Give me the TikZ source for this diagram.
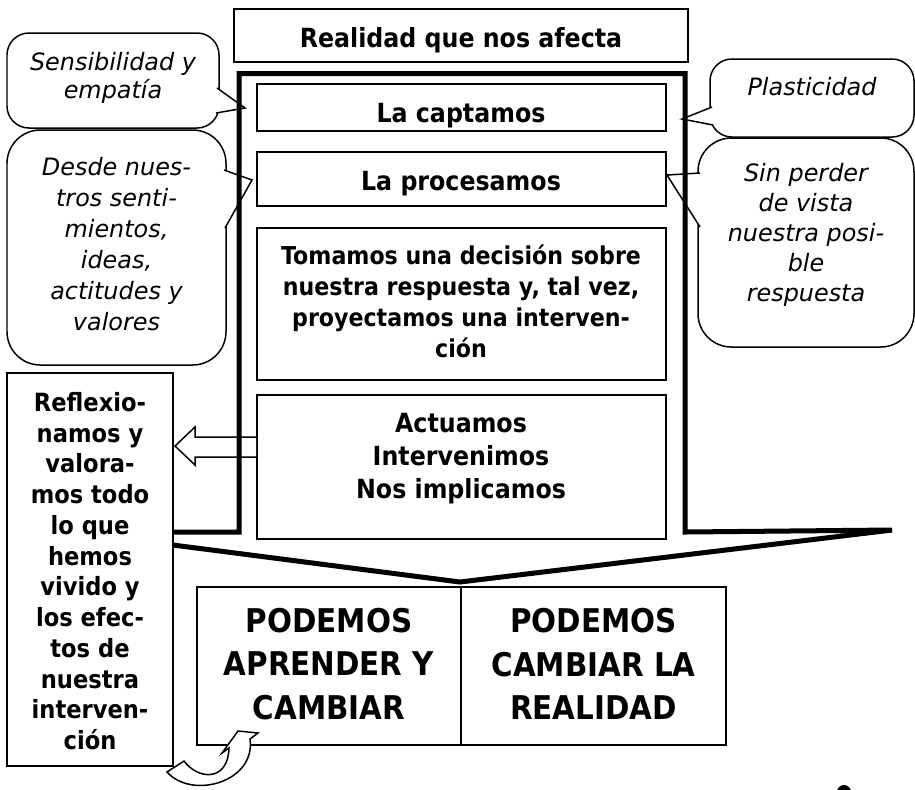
\documentclass[tikz,border=0pt]{standalone}
\usepackage{fontspec}
\setmainfont{DejaVu Sans}[FakeStretch=0.9]
\newfontfamily\itfam{DejaVu Sans Oblique}
\usetikzlibrary{calc,fit}
\def\bubble(#1)(#2)(#3)(#4)(#5)#6{\draw[bubbleline, fill=white, rounded corners=#6] (#1) rectangle (#2);
	\fill[white] (#3) -- (#5) -- (#4) -- cycle;
	\draw[bubbleline] (#3) -- (#5) -- (#4);}

\begin{document}
\begin{tikzpicture}[x=0.02cm, y=-0.02cm,
		outline/.style={draw, line width=1.1pt, fill=white, inner sep=0pt},
		bubbleline/.style={line width=0.85pt},
		thickframe/.style={line width=2.85pt},
		bt/.style={font=\bfseries\fontsize{15}{17.6}\selectfont, align=center, inner sep=0pt},
		itx/.style={font=\itfam\fontsize{13.6}{16}\selectfont, align=center, inner sep=0pt},
		big/.style={font=\bfseries\fontsize{18.6}{24.7}\selectfont, align=center, inner sep=0pt}]
		\useasboundingbox (0,0) rectangle (915,789);
		%%%%% START %%%%%
		\bubble(7,33)(219,128)(217,88)(216,113)(245,108){12.5pt}
		\bubble(7,130)(226,365)(224,170)(225,228)(252,180){19pt}
		\bubble(710,59)(914,137)(712,107)(713,125)(682,119){12.5pt}
		\bubble(698,138)(914,347)(700,173)(700,227)(667,175){19pt}
		
		\node[outline, fit={(234,9) (688,62)}] (top) {};
		\node[outline, fit={(257,84) (666,131)}] (capt) {};
		\node[outline, fit={(257,152) (666,206)}] (proc) {};
		\node[outline, fit={(257,228) (666,380)}] (toma) {};
		\node[outline, fit={(257,395) (666,539)}] (actu) {};
		
		\coordinate (reflIn) at (175,446);
		\draw[bubbleline, fill=white] (actu.west |- 0,437) -- (195,437) -- (195,427) -- (reflIn)
			-- (195,465) -- (195,457) -- (actu.west |- 0,457);
		
		\draw[thickframe] (239,532) -- (239,73.5) -- (685,73.5) -- (685,532) -- (892,530)
			-- (460,582) -- (72,532) -- cycle;
		
		\node[outline, fit={(7,373) (173,766)}] (refl) {};
		\node[outline, fit={(197,587) (461,745)}] (apr) {};
		\node[outline, fit={(461,587) (726,745)}] (cam) {};
		
		% curved arrow below
		\draw[bubbleline, fill=white] (184,761) .. controls (198,780) and (228,782) .. (229,748)
			-- (222,753) -- (238,731) -- (258,733) -- (250,739)
			.. controls (256,782) and (192,800) .. (167,772) -- cycle;
		\fill (844,792) circle (7);
		
		\node[bt] (topT) at (461,40.3) {Realidad que nos afecta};
		\node[bt] (captT) at (461,115.3) {La captamos};
		\node[bt] (procT) at (461,184) {La procesamos};
		\node[bt, font=\bfseries\fontsize{14}{17.6}\selectfont] (tomaT) at (461,301) {Tomamos una decisión sobre\\nuestra respuesta y, tal vez,\\proyectamos una interven-\\ción};
		\node[bt, font=\bfseries\fontsize{15}{18.8}\selectfont] (actuT) at (461,459) {Actuamos\\Intervenimos\\Nos implicamos};
		\node[bt, font=\bfseries\fontsize{14.3}{17.5}\selectfont] (reflT) at (90,571) {Reflexio-\\namos y\\valora-\\mos todo\\lo que\\hemos\\vivido y\\los efec-\\tos de\\nuestra\\interven-\\ción};
		\node[big] (aprT) at (329,664) {PODEMOS\\APRENDER Y\\CAMBIAR};
		\node[big] (camT) at (593.5,664) {PODEMOS\\CAMBIAR LA\\REALIDAD};
		
		\node[itx] (sensT) at (113,78) {Sensibilidad y\\empatía};
		\node[itx, font=\itfam\fontsize{13.6}{17.6}\selectfont] (desdeT) at (116.5,244) {Desde nues-\\tros senti-\\mientos,\\ideas,\\actitudes y\\valores};
		\node[itx] (plasT) at (812,87) {Plasticidad};
		\node[itx, font=\itfam\fontsize{13.6}{17}\selectfont] (sinT) at (806,235) {Sin perder\\de vista\\nuestra posi-\\ble\\respuesta};
		%%%%% END %%%%%
\end{tikzpicture}
\end{document}
